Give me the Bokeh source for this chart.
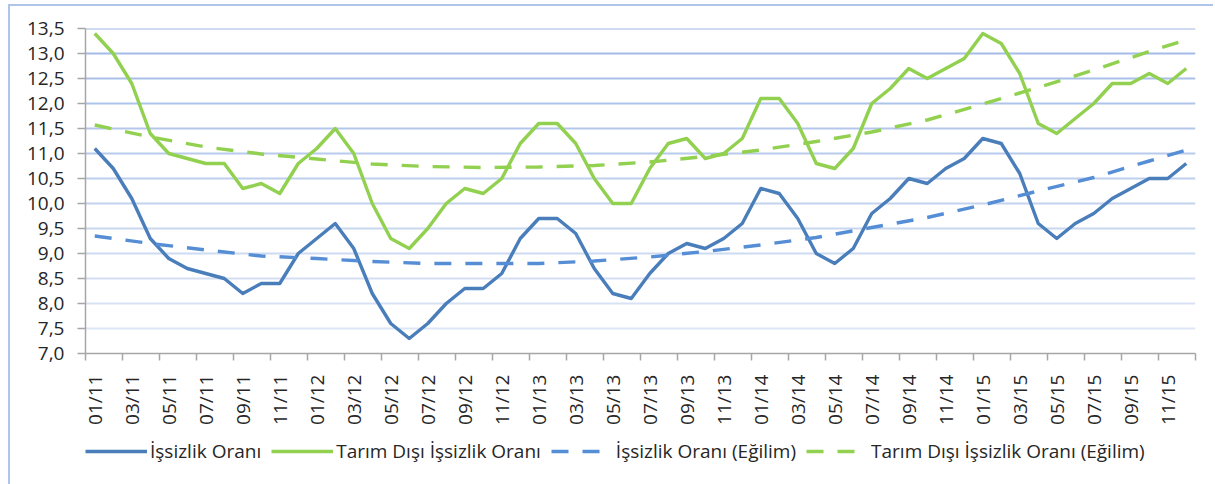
from bokeh.plotting import figure
from bokeh.layouts import column
from bokeh.models import FixedTicker, CustomJSTickFormatter, Span, Legend, LegendItem, Range1d
from bokeh.embed import file_html
from bokeh.resources import INLINE
from math import pi

# ---- data ----
months = [f"{m:02d}/{y}" for y in range(11, 16) for m in range(1, 13)]

issizlik = [11.1, 10.7, 10.1, 9.3, 8.9, 8.7, 8.6, 8.5, 8.2, 8.4, 8.4, 9.0,
            9.3, 9.6, 9.1, 8.2, 7.6, 7.3, 7.6, 8.0, 8.3, 8.3, 8.6, 9.3,
            9.7, 9.7, 9.4, 8.7, 8.2, 8.1, 8.6, 9.0, 9.2, 9.1, 9.3, 9.6,
            10.3, 10.2, 9.7, 9.0, 8.8, 9.1, 9.8, 10.1, 10.5, 10.4, 10.7, 10.9,
            11.3, 11.2, 10.6, 9.6, 9.3, 9.6, 9.8, 10.1, 10.3, 10.5, 10.5, 10.8]

tarim_disi = [13.4, 13.0, 12.4, 11.4, 11.0, 10.9, 10.8, 10.8, 10.3, 10.4, 10.2, 10.8,
              11.1, 11.5, 11.0, 10.0, 9.3, 9.1, 9.5, 10.0, 10.3, 10.2, 10.5, 11.2,
              11.6, 11.6, 11.2, 10.5, 10.0, 10.0, 10.7, 11.2, 11.3, 10.9, 11.0, 11.3,
              12.1, 12.1, 11.6, 10.8, 10.7, 11.1, 12.0, 12.3, 12.7, 12.5, 12.7, 12.9,
              13.4, 13.2, 12.6, 11.6, 11.4, 11.7, 12.0, 12.4, 12.4, 12.6, 12.4, 12.7]

trend_idx = [0, 3, 6, 9, 12, 15, 18, 21, 24, 27, 30, 33, 36, 39, 42, 45, 48, 51, 54, 57, 59]
issizlik_trend = [9.35, 9.20, 9.07, 8.95, 8.90, 8.84, 8.80, 8.80, 8.80, 8.85, 8.93,
                  9.04, 9.17, 9.32, 9.52, 9.72, 9.97, 10.25, 10.52, 10.85, 11.07]
tarim_disi_trend = [11.57, 11.33, 11.13, 10.99, 10.89, 10.79, 10.74, 10.72, 10.73, 10.76, 10.83,
                    10.94, 11.07, 11.24, 11.43, 11.67, 11.99, 12.32, 12.67, 13.04, 13.27]

y_ticks = [7.0, 7.5, 8.0, 8.5, 9.0, 9.5, 10.0, 10.5, 11.0, 11.5, 12.0, 12.5, 13.0, 13.5]
x_label_idx = list(range(0, 60, 2))

series_names = ["İşsizlik Oranı", "Tarım Dışı İşsizlik Oranı",
                "İşsizlik Oranı (Eğilim)", "Tarım Dışı İşsizlik Oranı (Eğilim)"]

# ---- styling ----
FONT = "Open Sans"
BLUE = "#4A7EBB"
GREEN = "#92D050"
BLUE_D = "#558ED5"
TXT = "#262626"
AXIS = "#A6A6A6"
FRAME_BORDER = "2px solid #AFC4EA"
DASH = "17 14"

x = list(range(len(months)))

p = figure(width=1205, height=430, output_backend="svg", toolbar_location=None,
           x_range=Range1d(-0.5, 59.5), y_range=Range1d(7.0, 13.5),
           min_border_left=75, min_border_right=20, min_border_top=22, min_border_bottom=83)
p.margin = (4, 0, 0, 8)
p.outline_line_color = None
p.xgrid.visible = False
p.ygrid.visible = False
p.styles = {"border-left": FRAME_BORDER, "border-top": FRAME_BORDER, "box-sizing": "border-box"}

# gridlines with fading colour
n = len(y_ticks) - 1
for k, v in enumerate(y_ticks[1:]):
    t = (k + 1) / n
    c0 = (0xE2, 0xEA, 0xF7)
    c1 = (0x9F, 0xB8, 0xE6)
    col = "#%02x%02x%02x" % tuple(int(round(a + (b - a) * t)) for a, b in zip(c0, c1))
    p.add_layout(Span(location=v, dimension="width", line_color=col, line_width=2, level="underlay"))

p.line(x, issizlik, line_width=3.4, color=BLUE, line_join="round")
p.line(x, tarim_disi, line_width=3.4, color=GREEN, line_join="round")
p.line(trend_idx, issizlik_trend, line_width=3.4, color=BLUE_D, line_dash=DASH)
p.line(trend_idx, tarim_disi_trend, line_width=3.4, color=GREEN, line_dash=DASH)

# x axis
xa = p.xaxis[0]
xa.ticker = FixedTicker(ticks=x_label_idx, minor_ticks=[i - 0.5 for i in range(0, 61, 2)])
xa.major_label_overrides = {i: months[i] for i in x_label_idx}
xa.major_label_orientation = pi / 2
xa.major_tick_line_color = None
xa.major_tick_out = 0
xa.major_tick_in = 0
xa.minor_tick_out = 7
xa.minor_tick_in = 0
xa.minor_tick_line_color = AXIS
xa.minor_tick_line_width = 1.5
xa.axis_line_color = AXIS
xa.axis_line_width = 1.5
xa.major_label_standoff = 14
xa.major_label_text_font = FONT
xa.major_label_text_font_size = "19px"
xa.major_label_text_color = TXT

# y axis
ya = p.yaxis[0]
ya.ticker = FixedTicker(ticks=y_ticks, minor_ticks=[])
ya.formatter = CustomJSTickFormatter(code="return tick.toFixed(1).replace('.', ',');")
ya.major_tick_out = 8
ya.major_tick_in = 0
ya.major_tick_line_color = AXIS
ya.major_tick_line_width = 1.5
ya.minor_tick_line_color = None
ya.axis_line_color = AXIS
ya.axis_line_width = 1.5
ya.major_label_standoff = 13
ya.major_label_text_font = FONT
ya.major_label_text_font_size = "19px"
ya.major_label_text_color = TXT

# legend strip: same series drawn out of view, only their legend glyphs show
lg = figure(width=1205, height=50, output_backend="svg", toolbar_location=None,
            x_range=Range1d(-0.5, 59.5), y_range=Range1d(0, 1),
            x_axis_location=None, y_axis_location=None, min_border=0)
lg.margin = (0, 0, 0, 8)
lg.outline_line_color = None
lg.xgrid.visible = False
lg.ygrid.visible = False
lg.styles = {"border-left": FRAME_BORDER, "box-sizing": "border-box"}
g1 = lg.line(x, issizlik, line_width=3.4, color=BLUE)
g2 = lg.line(x, tarim_disi, line_width=3.4, color=GREEN)
g3 = lg.line(trend_idx, issizlik_trend, line_width=3.4, color=BLUE_D, line_dash=DASH)
g4 = lg.line(trend_idx, tarim_disi_trend, line_width=3.4, color=GREEN, line_dash=DASH)

legend = Legend(items=[LegendItem(label=series_names[0], renderers=[g1]),
                       LegendItem(label=series_names[1], renderers=[g2]),
                       LegendItem(label=series_names[2], renderers=[g3]),
                       LegendItem(label=series_names[3], renderers=[g4])],
                orientation="horizontal", location=(0, 20))
legend.border_line_color = None
legend.background_fill_alpha = 0
legend.label_text_font = FONT
legend.label_text_font_size = "19px"
legend.label_text_color = TXT
legend.glyph_width = 62
legend.glyph_height = 20
legend.label_standoff = 3
legend.spacing = 10
legend.padding = 0
legend.margin = 0
lg.add_layout(legend, "center")

page = column(p, lg)
open("out.html", "w").write(file_html(page, INLINE))
